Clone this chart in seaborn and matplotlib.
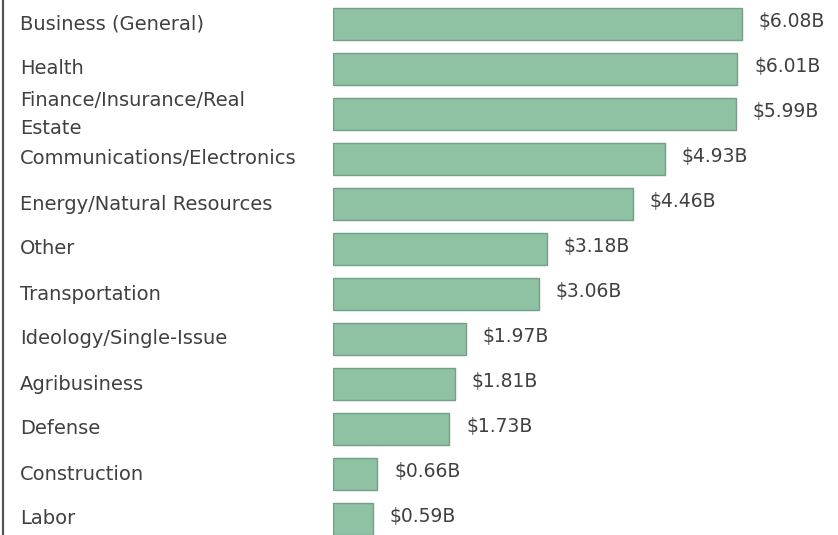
import matplotlib
matplotlib.use("Agg")
import matplotlib.pyplot as plt
import seaborn as sns
import pandas as pd

# Sector totals, billions of dollars
sectors = [
    "Business (General)",
    "Health",
    "Finance/Insurance/Real\nEstate",
    "Communications/Electronics",
    "Energy/Natural Resources",
    "Other",
    "Transportation",
    "Ideology/Single-Issue",
    "Agribusiness",
    "Defense",
    "Construction",
    "Labor",
]
totals = [6.08, 6.01, 5.99, 4.93, 4.46, 3.18, 3.06, 1.97, 1.81, 1.73, 0.66, 0.59]
value_labels = ["$6.08B", "$6.01B", "$5.99B", "$4.93B", "$4.46B", "$3.18B",
                "$3.06B", "$1.97B", "$1.81B", "$1.73B", "$0.66B", "$0.59B"]

df = pd.DataFrame({"sector": sectors, "total": totals})

sns.set_style("white")
plt.rcParams["font.family"] = ["DejaVu Sans"]

W, H = 838, 535
fig = plt.figure(figsize=(W / 100, H / 100), dpi=100)
ax_left = 333 / W
ax = fig.add_axes([ax_left, 0, 1 - ax_left, 1])

bar_color = "#8fc1a3"
edge_color = "#72a086"
sns.barplot(data=df, y="sector", x="total", orient="h", color=bar_color,
            width=0.71, edgecolor=edge_color, linewidth=1.0, saturation=1,
            ax=ax)

ax.set_xlim(0, (W - 333) / 67.3)
ax.set_ylim((H - 24) / 45, -24 / 45)
ax.set_xlabel("")
ax.set_ylabel("")
ax.set_xticks([])
for s in ax.spines.values():
    s.set_visible(False)

text_color = "#404040"
ax.tick_params(axis="y", length=0, pad=(333 - 20) * 0.72)
for lbl in ax.get_yticklabels():
    lbl.set_horizontalalignment("left")
    lbl.set_verticalalignment("center")
    lbl.set_fontsize(14)
    lbl.set_color(text_color)
    lbl.set_linespacing(1.6)

for i, (v, t) in enumerate(zip(totals, value_labels)):
    ax.annotate(t, xy=(v, i), xytext=(12, 1.5), textcoords="offset points",
                ha="left", va="center", fontsize=13.5, color=text_color)

# left frame rule
fig.add_artist(plt.Line2D([3 / W, 3 / W], [0, 1], color="#555555",
                          linewidth=1.6, transform=fig.transFigure))

fig.savefig("out.png", dpi=100)
